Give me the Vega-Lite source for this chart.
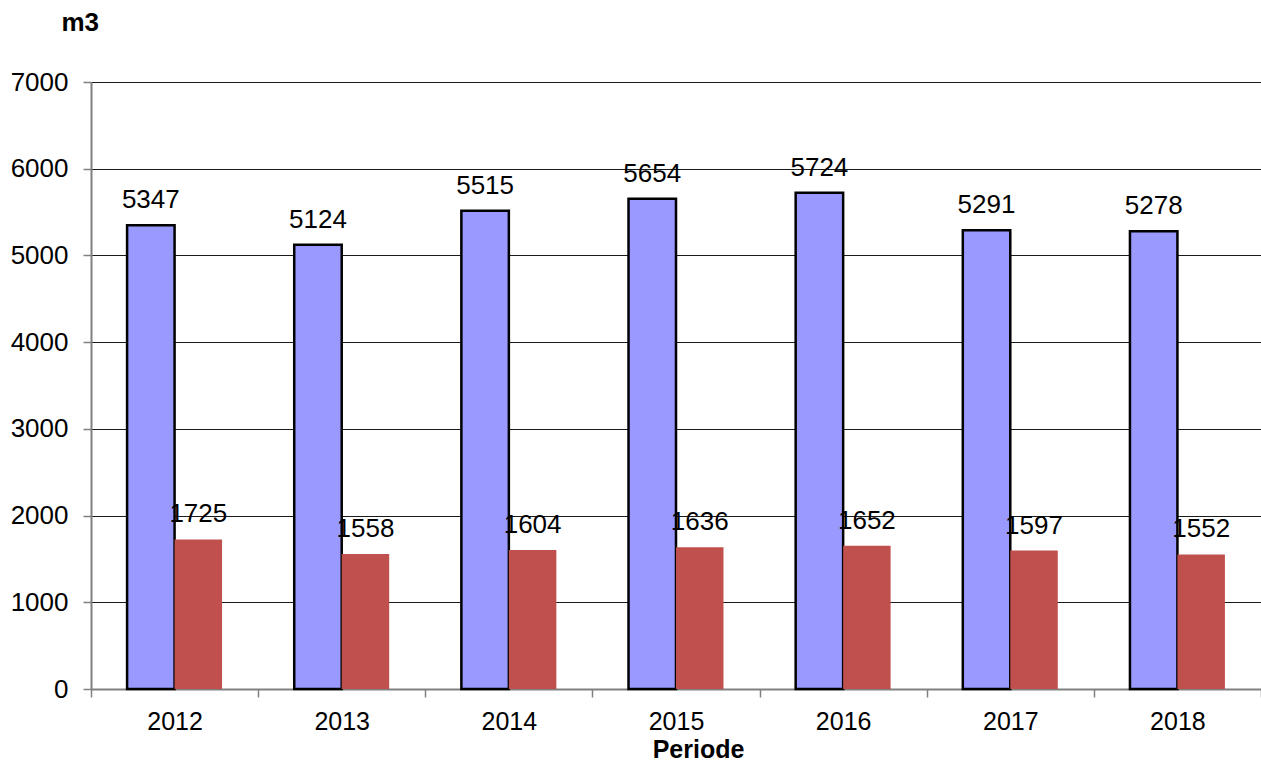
{
  "$schema": "https://vega.github.io/schema/vega-lite/v6.json",
  "width": 1170,
  "height": 607,
  "autosize": {"type": "none"},
  "padding": {"left": 91, "top": 82, "right": 0, "bottom": 74},
  "background": "white",
  "config": {"view": {"stroke": null}, "font": "Liberation Sans"},
  "data": {
    "values": [
      {"year": "2012", "serie": "Serie 1", "value": 5347},
      {"year": "2012", "serie": "Serie 2", "value": 1725},
      {"year": "2013", "serie": "Serie 1", "value": 5124},
      {"year": "2013", "serie": "Serie 2", "value": 1558},
      {"year": "2014", "serie": "Serie 1", "value": 5515},
      {"year": "2014", "serie": "Serie 2", "value": 1604},
      {"year": "2015", "serie": "Serie 1", "value": 5654},
      {"year": "2015", "serie": "Serie 2", "value": 1636},
      {"year": "2016", "serie": "Serie 1", "value": 5724},
      {"year": "2016", "serie": "Serie 2", "value": 1652},
      {"year": "2017", "serie": "Serie 1", "value": 5291},
      {"year": "2017", "serie": "Serie 2", "value": 1597},
      {"year": "2018", "serie": "Serie 1", "value": 5278},
      {"year": "2018", "serie": "Serie 2", "value": 1552}
    ]
  },
  "encoding": {
    "x": {
      "field": "year",
      "type": "ordinal",
      "scale": {"paddingInner": 0, "paddingOuter": 0},
      "axis": {
        "labelAngle": 0,
        "labelFontSize": 25,
        "labelColor": "#000",
        "labelBaseline": "alphabetic",
        "labelPadding": 32,
        "tickBand": "extent",
        "tickSize": 8,
        "tickColor": "#808080",
        "tickWidth": 1.5,
        "domainColor": "#808080",
        "domainWidth": 2,
        "grid": false,
        "title": "Periode",
        "titleFontSize": 25,
        "titleFontWeight": "bold",
        "titleColor": "#000",
        "titleX": 607,
        "titleY": 68,
        "titleBaseline": "alphabetic",
        "titleAlign": "center"
      }
    },
    "xOffset": {"field": "serie", "type": "nominal", "scale": {"paddingOuter": 0.76, "paddingInner": 0}},
    "y": {
      "field": "value",
      "type": "quantitative",
      "scale": {"domain": [0, 7000], "nice": false},
      "axis": {
        "values": [0, 1000, 2000, 3000, 4000, 5000, 6000, 7000],
        "format": "d",
        "labelFontSize": 26,
        "labelColor": "#000",
        "labelPadding": 15,
        "tickSize": 8,
        "tickColor": "#808080",
        "tickWidth": 1.5,
        "domainColor": "#808080",
        "domainWidth": 2,
        "grid": true,
        "gridColor": "#1a1a1a",
        "gridWidth": 1,
        "title": "m3",
        "titleAngle": 0,
        "titleFontSize": 26,
        "titleFontWeight": "bold",
        "titleColor": "#000",
        "titleX": -30,
        "titleY": -60,
        "titleAlign": "left",
        "titleBaseline": "middle"
      }
    }
  },
  "layer": [
    {
      "mark": {"type": "bar", "strokeWidth": 2.5},
      "encoding": {
        "color": {"field": "serie", "type": "nominal", "scale": {"range": ["#9999FF", "#C0504D"]}, "legend": null},
        "stroke": {"condition": {"test": "datum.serie === 'Serie 1'", "value": "#000000"}, "value": "transparent"}
      }
    },
    {
      "mark": {"type": "text", "dy": -17, "baseline": "alphabetic", "fontSize": 26, "color": "#000"},
      "encoding": {"text": {"field": "value", "type": "quantitative", "format": "d"}}
    }
  ]
}
